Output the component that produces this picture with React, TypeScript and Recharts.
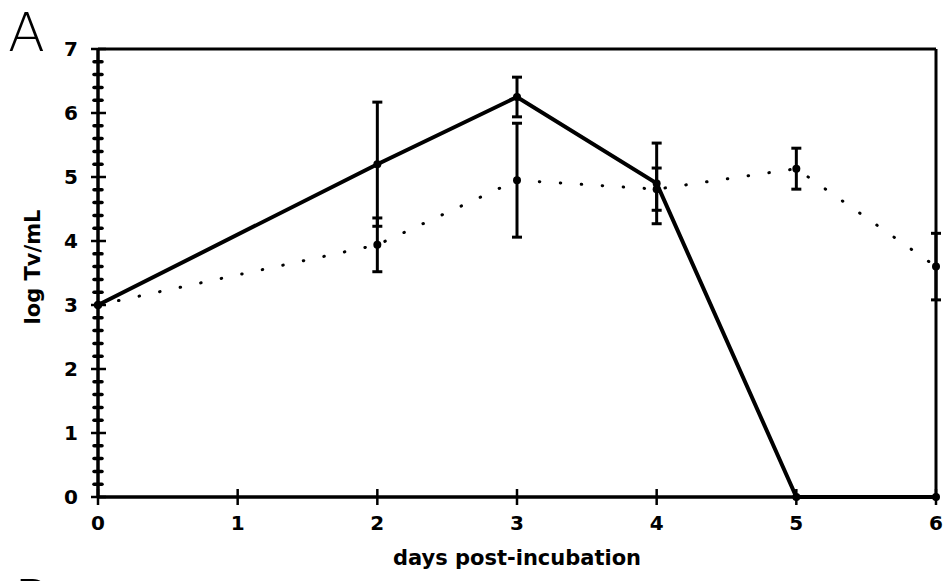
import React from 'react';
import { LineChart, Line, XAxis, YAxis, ErrorBar, ReferenceLine, Label } from 'recharts';

// values (log Tv/mL)
const days = [0, 2, 3, 4, 5, 6];
const solidMean = [3.0, 5.2, 6.25, 4.9, 0, 0];
const solidErr = [0, 0.97, 0.31, 0.63, 0, 0];
const dottedMean = [3.0, 3.94, 4.95, 4.81, 5.13, 3.6];
const dottedErr = [0, 0.42, 0.89, 0.33, 0.32, 0.52];

const xTicks = [0, 1, 2, 3, 4, 5, 6];
const yTicks = [
  0, 0.2, 0.4, 0.6, 0.8, 1, 1.2, 1.4, 1.6, 1.8, 2, 2.2, 2.4, 2.6, 2.8, 3, 3.2, 3.4, 3.6, 3.8,
  4, 4.2, 4.4, 4.6, 4.8, 5, 5.2, 5.4, 5.6, 5.8, 6, 6.2, 6.4, 6.6, 6.8, 7,
];

const data = days.map((d, i) => ({
  day: d,
  solid: solidMean[i],
  solidErr: solidErr[i],
  dotted: dottedMean[i],
  dottedErr: dottedErr[i],
}));

const FONT = "'DejaVu Sans', Verdana, sans-serif";
const THIN = "'DejaVu Sans ExtraLight', 'DejaVu Sans', sans-serif";

const YTick = ({ x, y, payload }: any) => {
  const major = Number.isInteger(payload.value);
  return (
    <g>
      {major ? (
        <line x1={x - 7} x2={x + 8} y1={y} y2={y} stroke="#000" strokeWidth={2.5} />
      ) : (
        <line x1={x - 4} x2={x + 4} y1={y} y2={y} stroke="#000" strokeWidth={3.5} strokeLinecap="round" />
      )}
      {major && (
        <text x={x - 20} y={y} textAnchor="end" dominantBaseline="central" fontFamily={FONT} fontWeight="bold" fontSize={20} fill="#000">
          {payload.value}
        </text>
      )}
    </g>
  );
};

const XTick = ({ x, y, payload }: any) => (
  <g>
    <line x1={x} x2={x} y1={y - 8} y2={y + 8} stroke="#000" strokeWidth={2.5} />
    <text x={x} y={y + 26} textAnchor="middle" dominantBaseline="central" fontFamily={FONT} fontWeight="bold" fontSize={20} fill="#000">
      {payload.value}
    </text>
  </g>
);

const Dot = ({ cx, cy }: any) => <circle cx={cx} cy={cy} r={4} fill="#000" />;

export default function App() {
  return (
    <div style={{ position: 'absolute', left: 0, top: 0, width: 952, height: 581, background: '#fff', overflow: 'hidden' }}>
      <LineChart width={952} height={581} data={data} margin={{ top: 49, right: 16, bottom: 0, left: 0 }}>
        <XAxis
          dataKey="day"
          type="number"
          domain={[0, 6]}
          ticks={xTicks}
          interval={0}
          height={84}
          tickSize={0}
          tickMargin={0}
          tickLine={false}
          axisLine={{ stroke: '#000', strokeWidth: 3.5 }}
          tick={<XTick />}
        >
          <Label
            content={({ viewBox }: any) => (
              <text
                x={viewBox.x + viewBox.width / 2}
                y={viewBox.y + 61}
                textAnchor="middle"
                dominantBaseline="central"
                fontFamily={FONT}
                fontWeight="bold"
                fontSize={21}
                fill="#000"
              >
                days post-incubation
              </text>
            )}
          />
        </XAxis>
        <YAxis
          type="number"
          domain={[0, 7]}
          ticks={yTicks}
          interval={0}
          width={98}
          tickSize={0}
          tickMargin={0}
          tickLine={false}
          axisLine={{ stroke: '#000', strokeWidth: 3.5 }}
          tick={<YTick />}
        >
          <Label
            content={({ viewBox }: any) => {
              const cx = 33;
              const cy = viewBox.y + viewBox.height / 2 - 6;
              return (
                <text
                  x={cx}
                  y={cy}
                  transform={`rotate(-90, ${cx}, ${cy})`}
                  textAnchor="middle"
                  dominantBaseline="central"
                  fontFamily={FONT}
                  fontWeight="bold"
                  fontSize={21}
                  fill="#000"
                >
                  log Tv/mL
                </text>
              );
            }}
          />
        </YAxis>
        <ReferenceLine y={7} stroke="#000" strokeWidth={3} />
        <ReferenceLine x={6} stroke="#000" strokeWidth={3} />
        <Line
          type="linear"
          dataKey="dotted"
          stroke="#000"
          strokeWidth={3}
          strokeLinecap="round"
          strokeDasharray="0.5 20.5"
          dot={<Dot />}
          activeDot={false}
          isAnimationActive={false}
        >
          <ErrorBar dataKey="dottedErr" width={5} stroke="#000" strokeWidth={3} direction="y" />
        </Line>
        <Line
          type="linear"
          dataKey="solid"
          stroke="#000"
          strokeWidth={4}
          dot={<Dot />}
          activeDot={false}
          isAnimationActive={false}
        >
          <ErrorBar dataKey="solidErr" width={5} stroke="#000" strokeWidth={3} direction="y" />
        </Line>
      </LineChart>
      <svg width={952} height={581} style={{ position: 'absolute', left: 0, top: 0, pointerEvents: 'none' }}>
        <text x={8} y={51} fontFamily={THIN} fontWeight={200} fontSize={54} fill="#000">
          A
        </text>
        <text x={14} y={618} fontFamily={THIN} fontWeight={300} fontSize={54} fill="#000">
          B
        </text>
      </svg>
    </div>
  );
}
